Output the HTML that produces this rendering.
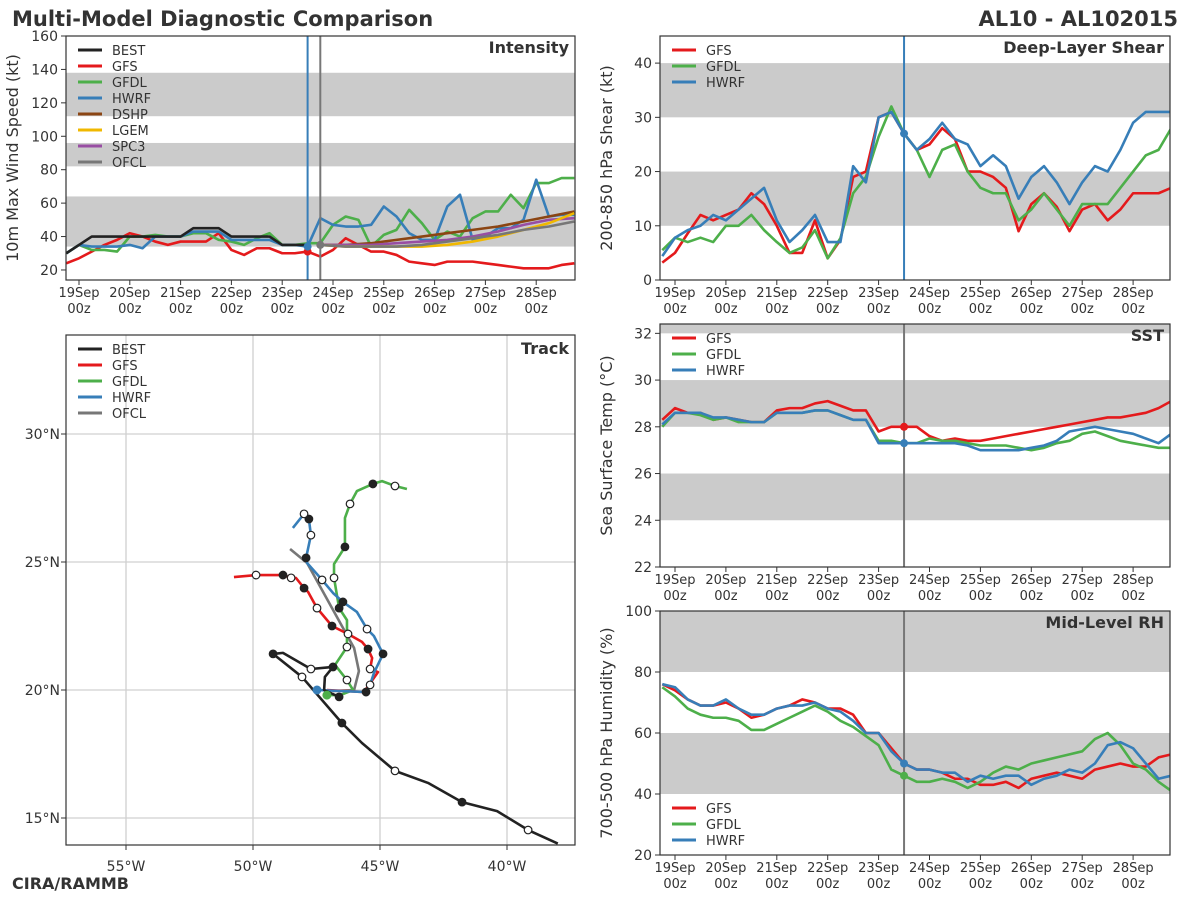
<!DOCTYPE html>
<html><head><meta charset="utf-8">
<style>
body{margin:0;background:#fff;}
svg{display:block;font-family:"DejaVu Sans","Liberation Sans",sans-serif;}
</style></head>
<body>
<svg id="chart" width="1200" height="900" viewBox="0 0 1200 900" xmlns="http://www.w3.org/2000/svg">
<text x="12" y="26" font-size="21" font-weight="bold" fill="#333">Multi-Model Diagnostic Comparison</text>
<text x="1178" y="26" font-size="21" font-weight="bold" fill="#333" text-anchor="end">AL10 - AL102015</text>
<text x="12" y="889" font-size="16" font-weight="bold" fill="#333">CIRA/RAMMB</text>
</svg>
<script>
// ---- data (6-hourly from -6h) ----
const dayLabels=["19Sep","20Sep","21Sep","22Sep","23Sep","24Sep","25Sep","26Sep","27Sep","28Sep"];
const intBEST=[30,35,40,40,40,40,40,40,40,40,45,45,45,40,40,40,40,35,35,35];
const intGFS=[24,27,31,35,38,42,40,37,35,37,37,37,42,32,29,33,33,30,30,31,28,32,39,35,31,31,29,25,24,23,25,25,25,24,23,22,21,21,21,23,24];
const intGFDL=[30,35,32,32,31,40,40,41,40,40,42,42,38,37,35,39,42,35,35,36,36,47,52,50,34,41,44,56,48,38,43,40,51,55,55,65,57,72,72,75,75];
const intHWRF=[30,35,34,34,34,35,33,40,40,40,43,43,43,38,38,38,38,35,35,34,51,47,46,46,47,58,52,42,38,38,58,65,38,40,45,45,50,74,52,53,53];
const fcHours=[114,126,138,150,162,174,186,198,210,222,234];
const intDSHP=[35,35,36,38,40,42,44,46,49,52,55];
const intLGEM=[35,34,34,34,34,35,37,40,44,48,54];
const intSPC3=[35,35,35,36,37,38,40,43,47,50,51];
const intOFCL=[35,34,34,34,35,37,39,41,44,46,49];
const shrGFS=[3.2,5,8.6,12,11,12,13,16,14,10,5,5,11,4,7.4,19,20,30,31,27,24,25,28,26,20,20,19,17,9,14,16,13.5,9,13,14,11,13,16,16,16,17];
const shrGFDL=[5.5,7.8,7,7.8,7,10,10,12,9.2,7,5,6,9.2,4,7.7,16,19,26.4,32,27,24,19,24,25,20,17,16,16,11,13,16,13,10,14,14,14,17,20,23,24,28];
const shrHWRF=[4.4,7.8,9.2,10,12,11,13,15,17,11,7,9.2,12,7,7,21,18,30,31,27,24,26,29,26,25,21,23,21,15,19,21,18,14,18,21,20,24,29,31,31,31];
const sstGFS=[28.3,28.8,28.6,28.6,28.3,28.4,28.3,28.2,28.2,28.7,28.8,28.8,29.0,29.1,28.9,28.7,28.7,27.8,28.0,28.0,28.0,27.6,27.4,27.5,27.4,27.4,27.5,27.6,27.7,27.8,27.9,28.0,28.1,28.2,28.3,28.4,28.4,28.5,28.6,28.8,29.1];
const sstGFDL=[28.0,28.6,28.6,28.5,28.3,28.4,28.2,28.2,28.2,28.6,28.6,28.6,28.7,28.7,28.5,28.3,28.3,27.4,27.4,27.3,27.3,27.5,27.4,27.4,27.3,27.2,27.2,27.2,27.1,27.0,27.1,27.3,27.4,27.7,27.8,27.6,27.4,27.3,27.2,27.1,27.1];
const sstHWRF=[28.1,28.6,28.6,28.6,28.4,28.4,28.3,28.2,28.2,28.6,28.6,28.6,28.7,28.7,28.5,28.3,28.3,27.3,27.3,27.3,27.3,27.3,27.3,27.3,27.2,27.0,27.0,27.0,27.0,27.1,27.2,27.4,27.8,27.9,28.0,27.9,27.8,27.7,27.5,27.3,27.7];
const rhGFS=[76,74,71,69,69,70,68,65,66,68,69,71,70,68,68,66,60,60,55,50,48,48,47,45,45,43,43,44,42,45,46,47,46,45,48,49,50,49,49,52,53];
const rhGFDL=[75,72,68,66,65,65,64,61,61,63,65,67,69,67,64,62,59,56,48,46,44,44,45,44,42,44,47,49,48,50,51,52,53,54,58,60,56,50,48,44,41];
const rhHWRF=[76,75,71,69,69,71,68,66,66,68,69,69,70,68,67,64,60,60,54,50,48,48,47,47,44,46,45,46,46,43,45,46,48,47,50,56,57,55,50,45,46];
// track: [lon, lat, marker] marker f=filled o=open n=none
const trkBEST=[[-38.0,14.0,"n"],[-39.17,14.53,"o"],[-40.39,15.27,"n"],[-41.77,15.62,"f"],[-43.11,16.37,"n"],[-44.41,16.84,"o"],[-45.71,17.93,"n"],[-46.5,18.71,"f"],[-48.07,20.51,"o"],[-49.21,21.41,"f"],[-48.82,21.45,"n"],[-47.72,20.82,"o"],[-46.85,20.9,"f"],[-47.17,20.51,"n"],[-47.2,20.0,"n"],[-46.61,19.73,"f"]];
const trkGFS=[[-47.09,20.0,"n"],[-45.63,19.92,"n"],[-45.08,20.7,"n"],[-45.39,20.82,"o"],[-45.31,21.25,"n"],[-45.47,21.6,"f"],[-45.71,21.88,"n"],[-46.26,22.19,"o"],[-46.89,22.5,"f"],[-47.48,23.2,"o"],[-47.83,23.83,"n"],[-47.99,23.98,"f"],[-48.31,24.38,"n"],[-48.5,24.38,"o"],[-48.82,24.49,"f"],[-49.88,24.49,"o"],[-50.75,24.41,"n"]];
const trkHWRF=[[-47.48,20.0,"n"],[-45.55,19.92,"f"],[-45.39,20.2,"o"],[-45.24,20.66,"n"],[-44.88,21.41,"f"],[-45.24,22.11,"n"],[-45.51,22.38,"o"],[-45.91,23.05,"n"],[-46.46,23.44,"f"],[-46.85,23.79,"n"],[-47.28,24.3,"o"],[-47.87,24.96,"n"],[-47.91,25.16,"f"],[-47.72,26.05,"o"],[-47.8,26.68,"f"],[-47.99,26.88,"o"],[-48.43,26.33,"n"]];
const trkGFDL=[[-47.09,19.8,"n"],[-46.57,19.8,"n"],[-46.06,20.0,"n"],[-46.3,20.39,"o"],[-46.77,20.98,"n"],[-46.3,21.68,"o"],[-46.3,22.73,"n"],[-46.61,23.2,"f"],[-46.81,24.38,"o"],[-46.81,24.92,"n"],[-46.38,25.59,"f"],[-46.38,26.72,"n"],[-46.18,27.27,"o"],[-45.91,27.77,"n"],[-45.28,28.05,"f"],[-44.92,28.16,"n"],[-44.41,27.97,"o"],[-43.94,27.85,"n"]];
const trkOFCL=[[-46.85,19.96,"n"],[-46.02,20.0,"n"],[-45.83,20.74,"n"],[-46.02,21.64,"n"],[-47.87,24.96,"n"],[-48.54,25.51,"n"]];

const C={BEST:"#222",GFS:"#e41a1c",GFDL:"#4daf4a",HWRF:"#377eb8",DSHP:"#8b4513",LGEM:"#f0b800",SPC3:"#984ea3",OFCL:"#777"};
const svg=document.getElementById('chart');
const NS="http://www.w3.org/2000/svg";
function mk(tag,attrs,parent){const e=document.createElementNS(NS,tag);for(const k in attrs)e.setAttribute(k,attrs[k]);(parent||svg).appendChild(e);return e;}
function txt(x,y,s,size,anchor,parent,extra){const t=mk('text',Object.assign({x:x,y:y,'font-size':size,fill:'#333','text-anchor':anchor||'start'},extra||{}),parent);t.textContent=s;return t;}
const defs=mk('defs',{});
let clipN=0;

function panel(name,L,T,R,B,yMin,yMax,yTicks,bands,yTitle,x0,dayW){
  const g=mk('g',{});
  
  
  const ys=v=>B-(v-yMin)/(yMax-yMin)*(B-T);
  const xs=h=>x0+h/24*dayW;
  const cid='clip'+(clipN++);
  const cp=mk('clipPath',{id:cid},defs);
  mk('rect',{x:L,y:T,width:R-L,height:B-T},cp);
  bands.forEach(b=>{const r=mk('rect',{x:L,y:ys(Math.min(b[1],yMax)),width:R-L,height:ys(b[0])-ys(Math.min(b[1],yMax)),fill:'#cbcbcb'},g);
    
    });
  yTicks.forEach(v=>{mk('line',{x1:L-5,x2:L,y1:ys(v),y2:ys(v),stroke:'#333'},g);
    const t=txt(L-8,ys(v)+5,String(v),14,'end',g);
    
    });
  dayLabels.forEach((d,i)=>{const x=xs(i*24);mk('line',{x1:x,x2:x,y1:B,y2:B+5,stroke:'#333'},g);
    const t=txt(x,B+17,d,13,'middle',g);
    const t2=txt(x,B+33,'00z',13,'middle',g);});
  const yt=txt(0,0,yTitle,16,'middle',g,{transform:`translate(${L-48},${(T+B)/2}) rotate(-90)`});
  
  
  const lg=mk('g',{'clip-path':`url(#${cid})`},g);
  return {g,lg,xs,ys,L,T,R,B};
}
function frame(p){const r=mk('rect',{x:p.L,y:p.T,width:p.R-p.L,height:p.B-p.T,fill:'none',stroke:'#333','stroke-width':1.2},p.g);
  }
function series(p,vals,hours,color,name,w){
  const pts=vals.map((v,i)=>[p.xs(hours?hours[i]:-6+6*i),p.ys(v)]);
  const l=mk('polyline',{points:pts.map(q=>q.join(',')).join(' '),fill:'none',stroke:color,'stroke-width':w||2.6,'stroke-linejoin':'round'},p.lg);
  
  
}
function vline(p,h,color){const l=mk('line',{x1:p.xs(h),x2:p.xs(h),y1:p.T,y2:p.B,stroke:color,'stroke-width':2},p.g);
  }
function legend(p,x,y,names){names.forEach((n,i)=>{
  mk('line',{x1:x,x2:x+24,y1:y+i*16,y2:y+i*16,stroke:C[n],'stroke-width':3},p.g);
  const t=txt(x+34,y+i*16+5,n,13,'start',p.g);
  
  });}
function ptitle(p,s){const t=txt(p.R-6,p.T+17,s,16,'end',p.g,{'font-weight':'bold'});}
function dot(p,h,v,c){const d=mk('circle',{cx:p.xs(h),cy:p.ys(v),r:4,fill:c},p.g);}

// Intensity
let P=panel('intensity',66,36,575,280,14,160,[20,40,60,80,100,120,140,160],[[34,64],[82,96],[112,138]],'10m Max Wind Speed (kt)',79,50.8);
vline(P,108,C.HWRF);vline(P,114,'#777');
series(P,intGFS,null,C.GFS,'gfs');series(P,intGFDL,null,C.GFDL,'gfdl');series(P,intHWRF,null,C.HWRF,'hwrf');
series(P,intDSHP,fcHours,C.DSHP,'dshp');series(P,intSPC3,fcHours,C.SPC3,'spc3');series(P,intLGEM,fcHours,C.LGEM,'lgem');series(P,intOFCL,fcHours,C.OFCL,'ofcl');
series(P,intBEST,null,C.BEST,'best');
dot(P,108,31,C.GFS);dot(P,108,34,C.HWRF);dot(P,114,35,C.OFCL);
frame(P);legend(P,78,50,["BEST","GFS","GFDL","HWRF","DSHP","LGEM","SPC3","OFCL"]);ptitle(P,'Intensity');

// Shear
P=panel('shear',660,36,1170,280,0,45,[0,10,20,30,40],[[10,20],[30,40]],'200-850 hPa Shear (kt)',675,50.9);
vline(P,108,C.HWRF);
series(P,shrGFS,null,C.GFS,'gfs');series(P,shrGFDL,null,C.GFDL,'gfdl');series(P,shrHWRF,null,C.HWRF,'hwrf');
dot(P,108,27,C.HWRF);frame(P);legend(P,672,50,["GFS","GFDL","HWRF"]);ptitle(P,'Deep-Layer Shear');

// SST
P=panel('sst',660,324,1170,567,22,32.4,[22,24,26,28,30,32],[[24,26],[28,30],[32,33]],'Sea Surface Temp (°C)',675,50.9);
vline(P,108,'#777');
series(P,sstGFS,null,C.GFS,'gfs');series(P,sstGFDL,null,C.GFDL,'gfdl');series(P,sstHWRF,null,C.HWRF,'hwrf');
dot(P,108,28.0,C.GFS);dot(P,108,27.3,C.HWRF);frame(P);legend(P,672,338,["GFS","GFDL","HWRF"]);ptitle(P,'SST');

// RH
P=panel('rh',660,611,1170,855,20,100,[20,40,60,80,100],[[40,60],[80,100]],'700-500 hPa Humidity (%)',675,50.9);
vline(P,108,'#777');
series(P,rhGFS,null,C.GFS,'gfs');series(P,rhGFDL,null,C.GFDL,'gfdl');series(P,rhHWRF,null,C.HWRF,'hwrf');
dot(P,108,50,C.HWRF);dot(P,108,46,C.GFDL);frame(P);legend(P,672,808,["GFS","GFDL","HWRF"]);ptitle(P,'Mid-Level RH');

// Track
const TL=66,TT=335,TR=575,TB=845;
const tg=mk('g',{});


const lonX=lon=>126+(lon+55)*25.4, latY=lat=>434-(lat-30)*25.6;
[-55,-50,-45,-40].forEach(lon=>{mk('line',{x1:lonX(lon),x2:lonX(lon),y1:TT,y2:TB,stroke:'#d0d0d0','stroke-width':1.3},tg);
  mk('line',{x1:lonX(lon),x2:lonX(lon),y1:TB,y2:TB+5,stroke:'#333'},tg);
  const t=txt(lonX(lon),TB+26,Math.abs(lon)+'°W',14,'middle',tg);});
[15,20,25,30].forEach(lat=>{mk('line',{x1:TL,x2:TR,y1:latY(lat),y2:latY(lat),stroke:'#d0d0d0','stroke-width':1.3},tg);
  mk('line',{x1:TL-5,x2:TL,y1:latY(lat),y2:latY(lat),stroke:'#333'},tg);
  const t=txt(TL-6,latY(lat)+5,lat+'°N',14,'end',tg);});
function track(arr,color,name){
  const l=mk('polyline',{points:arr.map(p=>lonX(p[0])+','+latY(p[1])).join(' '),fill:'none',stroke:color,'stroke-width':2.6,'stroke-linejoin':'round'},tg);
  
  
  arr.forEach(p=>{if(p[2]==='n')return;
    const c=mk('circle',{cx:lonX(p[0]),cy:latY(p[1]),r:3.8,fill:p[2]==='f'?'#222':'#fff',stroke:'#222','stroke-width':1.2},tg);
    
    });
}
track(trkOFCL,C.OFCL,'ofcl');track(trkGFDL,C.GFDL,'gfdl');track(trkGFS,C.GFS,'gfs');track(trkHWRF,C.HWRF,'hwrf');track(trkBEST,C.BEST,'best');
mk('circle',{cx:lonX(-47.48),cy:latY(20.0),r:4.5,fill:C.HWRF},tg);
mk('circle',{cx:lonX(-47.09),cy:latY(19.8),r:4.5,fill:C.GFDL},tg);
const tf=mk('rect',{x:TL,y:TT,width:TR-TL,height:TB-TT,fill:'none',stroke:'#333','stroke-width':1.2},tg);

["BEST","GFS","GFDL","HWRF","OFCL"].forEach((n,i)=>{mk('line',{x1:78,x2:102,y1:349+i*16,y2:349+i*16,stroke:C[n],'stroke-width':3},tg);
  const t=txt(112,354+i*16,n,13,'start',tg);});
const tt=txt(TR-6,TT+19,'Track',16,'end',tg,{'font-weight':'bold'});

</script>
</body></html>
